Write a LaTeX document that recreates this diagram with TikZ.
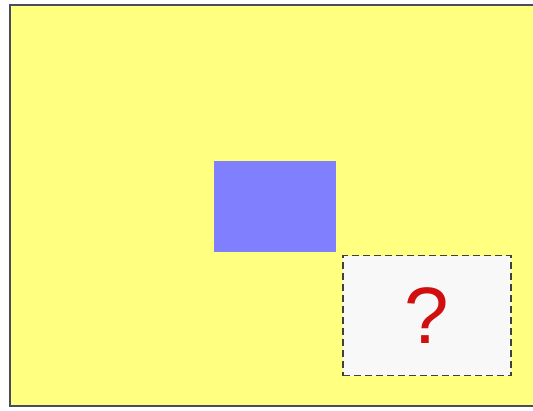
\documentclass[tikz,border=0pt]{standalone}
\usepackage{fontspec}
\setmainfont{Liberation Sans}
\definecolor{bgyellow}{HTML}{FFFF80}
\definecolor{frameedge}{HTML}{4A4A60}
\definecolor{boxblue}{HTML}{8080FF}
\definecolor{qred}{HTML}{D01010}
\definecolor{dashgray}{HTML}{404040}
\definecolor{boxwhite}{HTML}{F8F8F8}
\tikzset{
  framebox/.style={fill=bgyellow, draw=frameedge, line width=1.6pt},
  bluebox/.style={fill=boxblue, draw=none},
  questionbox/.style={fill=boxwhite, draw=dashgray, line width=1.7pt, dash pattern=on 7pt off 4pt},
  qmark/.style={text=qred, font=\fontsize{80}{82}\selectfont}
}
\begin{document}
\begin{tikzpicture}[x=1pt,y=-1pt]
\useasboundingbox (0,0) rectangle (533,410);
\fill[white] (0,0) rectangle (533,410);
\path[framebox] (10,5) rectangle (540,406);
\path[bluebox] (214,161) rectangle (336,252);
\node[questionbox, minimum width=168pt, minimum height=120pt, inner sep=0pt] (q) at (427,315.5) {};
\node[qmark, inner sep=0pt, anchor=center] (qm) at (427,316) {?};
\end{tikzpicture}
\end{document}
